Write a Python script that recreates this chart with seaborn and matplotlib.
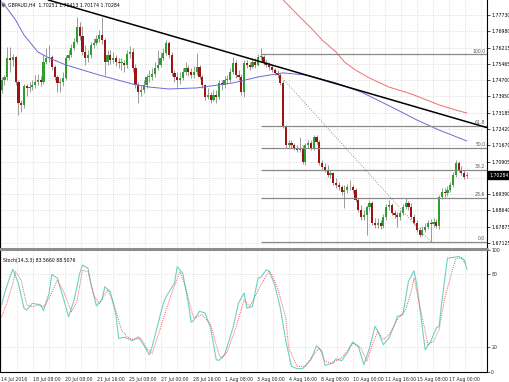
import matplotlib
matplotlib.use('Agg')
import matplotlib.pyplot as plt
import matplotlib.transforms as mtransforms
from matplotlib.lines import Line2D
import numpy as np
import pandas as pd
import seaborn as sns

sns.set_style('white')
plt.rcParams['font.family'] = ['DejaVu Sans']

# GBPAUD H4 candles (first open, then closes / highs / lows per bar)
first_open = 1.7424
last_open = 1.70251
closes = [
    1.7471, 1.7485, 1.7573, 1.7564, 1.7578, 1.7462, 1.7364, 1.7355, 1.7443, 1.7434,
    1.7438, 1.7448, 1.7462, 1.7471, 1.7462, 1.7555, 1.7573, 1.7578, 1.7531, 1.7485,
    1.7457, 1.7462, 1.7480, 1.7573, 1.7587, 1.7620, 1.7648, 1.7717, 1.7676, 1.7601,
    1.7573, 1.7587, 1.7634, 1.7643, 1.7662, 1.7680, 1.7657, 1.7555, 1.7587, 1.7564,
    1.7573, 1.7555, 1.7550, 1.7550, 1.7541, 1.7592, 1.7601, 1.7527, 1.7448, 1.7415,
    1.7424, 1.7448, 1.7485, 1.7485, 1.7499, 1.7527, 1.7541, 1.7573, 1.7597, 1.7643,
    1.7587, 1.7504, 1.7485, 1.7471, 1.7480, 1.7508, 1.7527, 1.7508, 1.7494, 1.7508,
    1.7531, 1.7485, 1.7448, 1.7392, 1.7401, 1.7378, 1.7401, 1.7392, 1.7457, 1.7448,
    1.7471, 1.7471, 1.7508, 1.7550, 1.7494, 1.7485, 1.7415, 1.7550, 1.7541, 1.7531,
    1.7555, 1.7541, 1.7578, 1.7578, 1.7550, 1.7541, 1.7531, 1.7517, 1.7504, 1.7494,
    1.7457, 1.7252, 1.7169, 1.7178, 1.7169, 1.7155, 1.7145, 1.7155, 1.7090, 1.7169,
    1.7178, 1.7155, 1.7206, 1.7183, 1.7085, 1.7066, 1.7052, 1.7029, 1.7039, 1.6992,
    1.6983, 1.6973, 1.6950, 1.6959, 1.6973, 1.6973, 1.6959, 1.6913, 1.6866, 1.6834,
    1.6843, 1.6880, 1.6899, 1.6806, 1.6797, 1.6806, 1.6792, 1.6834, 1.6880, 1.6890,
    1.6853, 1.6843, 1.6834, 1.6853, 1.6880, 1.6899, 1.6880, 1.6834, 1.6806, 1.6773,
    1.6750, 1.6773, 1.6787, 1.6806, 1.6801, 1.6811, 1.6792, 1.6927, 1.6950, 1.6946,
    1.6959, 1.6983, 1.7029, 1.7085, 1.7052, 1.7039, 1.7020, 1.70284,
]
highs = [
    1.7485, 1.7494, 1.7624, 1.7624, 1.7592, 1.7583, 1.7471, 1.7378, 1.7452, 1.7452,
    1.7462, 1.7471, 1.7494, 1.7499, 1.7490, 1.7587, 1.7620, 1.7634, 1.7587, 1.7541,
    1.7494, 1.7480, 1.7508, 1.7587, 1.7610, 1.7638, 1.7666, 1.7764, 1.7741, 1.7722,
    1.7634, 1.7610, 1.7648, 1.7666, 1.7680, 1.7703, 1.7764, 1.7666, 1.7610, 1.7610,
    1.7601, 1.7587, 1.7573, 1.7573, 1.7564, 1.7610, 1.7629, 1.7620, 1.7545, 1.7462,
    1.7448, 1.7471, 1.7499, 1.7517, 1.7527, 1.7555, 1.7610, 1.7601, 1.7620, 1.7657,
    1.7652, 1.7601, 1.7517, 1.7508, 1.7508, 1.7527, 1.7555, 1.7541, 1.7527, 1.7536,
    1.7597, 1.7541, 1.7494, 1.7452, 1.7434, 1.7415, 1.7424, 1.7424, 1.7471, 1.7471,
    1.7490, 1.7494, 1.7527, 1.7578, 1.7564, 1.7517, 1.7499, 1.7564, 1.7564, 1.7555,
    1.7573, 1.7573, 1.7592, 1.7620, 1.7587, 1.7564, 1.7555, 1.7541, 1.7527, 1.7517,
    1.7504, 1.7471, 1.7262, 1.7192, 1.7192, 1.7178, 1.7169, 1.7206, 1.7169, 1.7178,
    1.7192, 1.7192, 1.7215, 1.7215, 1.7192, 1.7099, 1.7085, 1.7076, 1.7052, 1.7043,
    1.7015, 1.6997, 1.6983, 1.6983, 1.6987, 1.7006, 1.6983, 1.6969, 1.6922, 1.6890,
    1.6866, 1.6890, 1.6913, 1.6908, 1.6829, 1.6829, 1.6820, 1.6848, 1.6894, 1.6913,
    1.6899, 1.6866, 1.6857, 1.6866, 1.6894, 1.6922, 1.6908, 1.6899, 1.6848, 1.6820,
    1.6787, 1.6792, 1.6806, 1.6820, 1.6825, 1.6829, 1.6825, 1.6936, 1.6969, 1.6969,
    1.6978, 1.6997, 1.7043, 1.7099, 1.7094, 1.7071, 1.7052, 1.70413,
]
lows = [
    1.7411, 1.7448, 1.7471, 1.7508, 1.7536, 1.7448, 1.7308, 1.7322, 1.7341, 1.7397,
    1.7415, 1.7424, 1.7434, 1.7448, 1.7443, 1.7452, 1.7545, 1.7555, 1.7517, 1.7471,
    1.7415, 1.7415, 1.7443, 1.7471, 1.7564, 1.7578, 1.7610, 1.7638, 1.7657, 1.7587,
    1.7541, 1.7555, 1.7573, 1.7620, 1.7634, 1.7648, 1.7638, 1.7494, 1.7541, 1.7545,
    1.7550, 1.7536, 1.7527, 1.7517, 1.7508, 1.7527, 1.7573, 1.7508, 1.7434, 1.7364,
    1.7397, 1.7411, 1.7434, 1.7462, 1.7471, 1.7485, 1.7517, 1.7531, 1.7564, 1.7587,
    1.7573, 1.7490, 1.7462, 1.7438, 1.7452, 1.7471, 1.7494, 1.7490, 1.7480, 1.7480,
    1.7494, 1.7476, 1.7434, 1.7378, 1.7383, 1.7364, 1.7373, 1.7364, 1.7383, 1.7424,
    1.7434, 1.7452, 1.7462, 1.7499, 1.7480, 1.7471, 1.7401, 1.7392, 1.7527, 1.7517,
    1.7527, 1.7527, 1.7536, 1.7564, 1.7541, 1.7531, 1.7517, 1.7508, 1.7494, 1.7480,
    1.7448, 1.7248, 1.7155, 1.7159, 1.7155, 1.7145, 1.7136, 1.7136, 1.7080, 1.7076,
    1.7155, 1.7145, 1.7145, 1.7173, 1.7076, 1.7057, 1.7043, 1.7020, 1.7015, 1.6983,
    1.6969, 1.6959, 1.6936, 1.6876, 1.6946, 1.6959, 1.6946, 1.6904, 1.6857, 1.6820,
    1.6820, 1.6750, 1.6866, 1.6797, 1.6783, 1.6783, 1.6778, 1.6783, 1.6820, 1.6866,
    1.6843, 1.6829, 1.6787, 1.6820, 1.6843, 1.6871, 1.6866, 1.6825, 1.6797, 1.6764,
    1.6741, 1.6746, 1.6764, 1.6778, 1.6718, 1.6787, 1.6783, 1.6778, 1.6918, 1.6927,
    1.6932, 1.6950, 1.6973, 1.7020, 1.7043, 1.7029, 1.7011, 1.70174,
]

# moving averages (bar index, price)
ma_blue_bars = [0, 1, 5, 8, 13, 17, 23, 35, 47, 53, 60, 70, 83, 92, 101, 109, 112, 120, 129, 140, 149, 157, 167]
ma_blue = [1.7834, 1.7820, 1.7750, 1.7680, 1.7601, 1.7573, 1.7541, 1.7494, 1.7452, 1.7438, 1.7429, 1.7434,
           1.7457, 1.7485, 1.7504, 1.7494, 1.7485, 1.7457, 1.7415, 1.7345, 1.7285, 1.7238, 1.7187]
ma_red_bars = [100, 107, 111, 115, 120, 123, 127, 132, 139, 147, 157, 163, 167]
ma_red = [1.7857, 1.7764, 1.7713, 1.7657, 1.7601, 1.7555, 1.7517, 1.7480, 1.7438, 1.7406, 1.7355, 1.7331, 1.7317]

# stochastic (14,3,3)
stoch_k_bars = [0, 1, 3, 4, 6, 8, 9, 11, 13, 14, 15, 17, 18, 20, 22, 24, 26, 28, 29, 31, 32, 34, 36, 37, 39,
                41, 42, 44, 47, 49, 51, 53, 54, 58, 59, 62, 63, 65, 67, 68, 69, 71, 73, 75, 77, 78, 80, 83,
                85, 87, 88, 90, 92, 93, 95, 96, 98, 100, 102, 104, 106, 108, 111, 113, 115, 116, 119, 120,
                122, 124, 126, 128, 130, 132, 134, 135, 137, 139, 141, 142, 144, 146, 148, 149, 151, 152,
                154, 156, 157, 158, 160, 162, 164, 166, 167]
stoch_k = [54.6, 64.2, 77.8, 83.8, 72.4, 51.9, 50.5, 56.0, 55.2, 54.6, 50.0, 64.2, 79.7, 76.5, 61.4, 45.0,
           58.7, 80.5, 87.3, 84.6, 72.4, 53.8, 58.7, 69.6, 65.5, 46.4, 27.3, 28.2, 25.4, 28.6, 21.9, 13.7,
           20.5, 56.0, 61.4, 72.4, 86.0, 80.5, 56.0, 40.5, 42.3, 49.5, 48.0, 35.8, 9.8, 9.3, 13.9, 35.8,
           56.2, 64.4, 52.1, 53.5, 76.7, 77.3, 83.5, 82.2, 71.2, 52.1, 24.9, 4.4, 2.5, 2.5, 9.8, 21.3,
           16.7, 5.2, 7.1, 10.6, 9.0, 15.3, 24.3, 20.8, 5.7, 19.4, 37.2, 33.0, 22.1, 27.6, 38.5, 45.3,
           46.7, 74.0, 82.7, 71.2, 35.8, 18.0, 24.9, 35.8, 37.2, 57.6, 93.1, 93.6, 94.4, 91.7, 83.566]
stoch_d_bars = [0, 2, 4, 5, 7, 9, 11, 13, 15, 17, 20, 22, 25, 27, 29, 31, 33, 35, 38, 40, 43, 45, 47, 50,
                52, 54, 56, 59, 61, 64, 66, 68, 69, 72, 75, 78, 79, 81, 84, 87, 89, 91, 93, 96, 97, 99,
                102, 103, 106, 109, 111, 114, 116, 118, 121, 123, 126, 129, 131, 133, 135, 137, 139, 142,
                145, 147, 148, 150, 153, 155, 157, 159, 162, 163, 165, 166, 167]
stoch_d = [45.0, 57.3, 72.4, 81.9, 75.0, 54.6, 53.2, 54.6, 53.2, 60.0, 75.0, 66.9, 49.1, 57.3, 83.2, 81.9,
           62.8, 56.0, 66.9, 57.3, 34.1, 28.6, 26.5, 27.3, 19.1, 15.0, 28.6, 50.5, 64.2, 81.9, 69.6, 50.8,
           44.0, 46.7, 38.5, 13.9, 11.2, 16.7, 35.8, 58.9, 53.5, 61.7, 71.2, 82.2, 79.4, 68.5, 44.0, 19.4,
           4.4, 4.4, 11.2, 19.4, 8.5, 7.1, 9.8, 13.9, 23.5, 19.4, 8.5, 22.1, 33.0, 26.2, 30.3, 42.6, 50.8,
           65.8, 76.7, 54.8, 22.1, 24.9, 34.4, 60.3, 84.9, 92.5, 93.3, 90.0, 88.5076]

# drawing objects
trend_a = (18, 1.7838)
trend_b = (173.5, 1.7252)
fib_high, fib_low = 1.7590, 1.6718
fib_start, fib_end = 93, 154
fib_levels = [0.0, 23.6, 38.2, 50.0, 61.8, 100.0]

price_ticks = [1.77730, 1.76980, 1.76215, 1.75465, 1.74700, 1.73950, 1.73185, 1.72420,
               1.71670, 1.70905, 1.69390, 1.68640, 1.67875, 1.67125]
hidden_grid = [1.70155]
last_price = 1.70284
date_labels = ['14 Jul 2016', '18 Jul 08:00', '20 Jul 08:00', '21 Jul 16:00', '25 Jul 08:00',
               '27 Jul 00:00', '28 Jul 16:00', '1 Aug 08:00', '3 Aug 00:00', '4 Aug 16:00',
               '8 Aug 08:00', '10 Aug 00:00', '11 Aug 16:00', '15 Aug 08:00', '17 Aug 00:00']

df = pd.DataFrame({'close': closes, 'high': highs, 'low': lows})
df['open'] = [first_open] + closes[:-1]
df.loc[df.index[-1], 'open'] = last_open
df['bar'] = np.arange(len(df))

# layout
W, H = 510, 382
bar_px = 2.786
x_left = -1.7 / bar_px
x_right = (487 - 1.7) / bar_px
fs = 3.3
green, red, wick = '#2e9e2e', '#9c1414', '#8a8a8a'
grid_kw = dict(color='#c4c4c4', lw=0.5, ls=(0, (1, 2)), zorder=0)

fig = plt.figure(figsize=(W / 100, H / 100), dpi=100)
ax = fig.add_axes([0, (H - 247) / H, 487 / W, 247 / H])
ax2 = fig.add_axes([0, (H - 371.7) / H, 487 / W, 122.1 / H])

vgrid = (1 + 16 * np.arange(31) - 1.7) / bar_px
for a in (ax, ax2):
    for g in vgrid:
        a.axvline(g, **grid_kw)
for p in price_ticks + hidden_grid:
    ax.axhline(p, **grid_kw)
for p in (20, 80):
    ax2.axhline(p, **grid_kw)

# candles
up = df['close'] >= df['open']
body = (df['close'] - df['open']).abs().clip(lower=0.00025)
base = df[['open', 'close']].min(axis=1)
ax.vlines(df['bar'], df['low'], df['high'], color=wick, lw=0.6, zorder=2)
ax.bar(df['bar'][up], body[up], bottom=base[up], width=0.78, color=green, lw=0, zorder=3)
ax.bar(df['bar'][~up], body[~up], bottom=base[~up], width=0.78, color=red, lw=0, zorder=3)

# moving averages
sns.lineplot(x=ma_blue_bars, y=ma_blue, ax=ax, color='#6b6bd6', lw=0.7, zorder=4)
sns.lineplot(x=ma_red_bars, y=ma_red, ax=ax, color='#ec7070', lw=0.7, zorder=4)

# trend line
ax.axline(trend_a, trend_b, color='black', lw=1.1, zorder=5)

# fibonacci retracement
ax.plot([fib_start, fib_end], [fib_high, fib_low], color='#707070', lw=0.6, ls=(0, (1, 2)), zorder=4)
for lvl in fib_levels:
    p = fib_low + lvl / 100 * (fib_high - fib_low)
    ax.hlines(p, fib_start, x_right, color='#8a8a8a', lw=0.9, zorder=4)
    ax.text(x_right - 0.6, p + 0.0004, f'{lvl:.1f}', ha='right', va='bottom',
            fontsize=fs, color='#555555', zorder=6)

ax.set_xlim(x_left, x_right)
ax.set_ylim(1.66989 - 0.000465, 1.78428)
ax.yaxis.tick_right()
ax.set_yticks(price_ticks, [f'{p:.5f}' for p in price_ticks])
ax.set_xticks([])
ax.tick_params(axis='y', labelsize=fs, length=2, width=0.5, pad=1, colors='black')

# last price box
tr = mtransforms.blended_transform_factory(ax.transAxes, ax.transData)
ax.text(1.004, last_price, f'{last_price:.5f}', transform=tr, ha='left', va='center',
        fontsize=fs, color='white', zorder=10,
        bbox=dict(boxstyle='square,pad=0.25', facecolor='black', edgecolor='black'))

ax.text(0.016, 0.987, 'GBPAUD,H4  1.70251 1.70413 1.70174 1.70284', transform=ax.transAxes,
        ha='left', va='top', fontsize=fs, color='black', zorder=10)
ax.plot([0.006], [0.978], transform=ax.transAxes, marker='v', ms=2, color='#606060', clip_on=False)

# stochastic panel
sns.lineplot(x=stoch_k_bars, y=stoch_k, ax=ax2, color='#6fd0c4', lw=0.8, zorder=3)
sns.lineplot(x=stoch_d_bars, y=stoch_d, ax=ax2, color='#ef5a5a', lw=0.7, ls=(0, (1, 1.2)), zorder=4)
ax2.set_xlim(x_left, x_right)
ax2.set_ylim(0, 100)
ax2.yaxis.tick_right()
ax2.set_yticks([0, 20, 80, 100], ['0', '20', '80', '100'])
ax2.tick_params(axis='y', labelsize=fs, length=2, width=0.5, pad=1)
label_pos = (1 + 32 * np.arange(len(date_labels)) - 1.7) / bar_px
ax2.set_xticks(label_pos, date_labels)
for t in ax2.get_xticklabels():
    t.set_ha('left')
ax2.tick_params(axis='x', labelsize=fs, length=2, width=0.5, pad=1.5)
ax2.text(0.006, 0.93, 'Stoch(14,3,3) 83.5660 88.5076', transform=ax2.transAxes,
         ha='left', va='top', fontsize=fs, color='black', zorder=10)

for a in (ax, ax2):
    a.set_xlabel('')
    a.set_ylabel('')
    for s in a.spines.values():
        s.set_color('black')
        s.set_linewidth(0.8)
ax.spines['top'].set_visible(False)
ax.spines['bottom'].set_visible(False)
ax2.spines['top'].set_visible(False)

# single grey separator between the two panels
sep_y = (H - 248.6) / H
fig.add_artist(Line2D([0, 487 / W], [sep_y, sep_y], transform=fig.transFigure,
                      color='#8c8c8c', lw=2.2))

fig.savefig('out.png', dpi=100)
